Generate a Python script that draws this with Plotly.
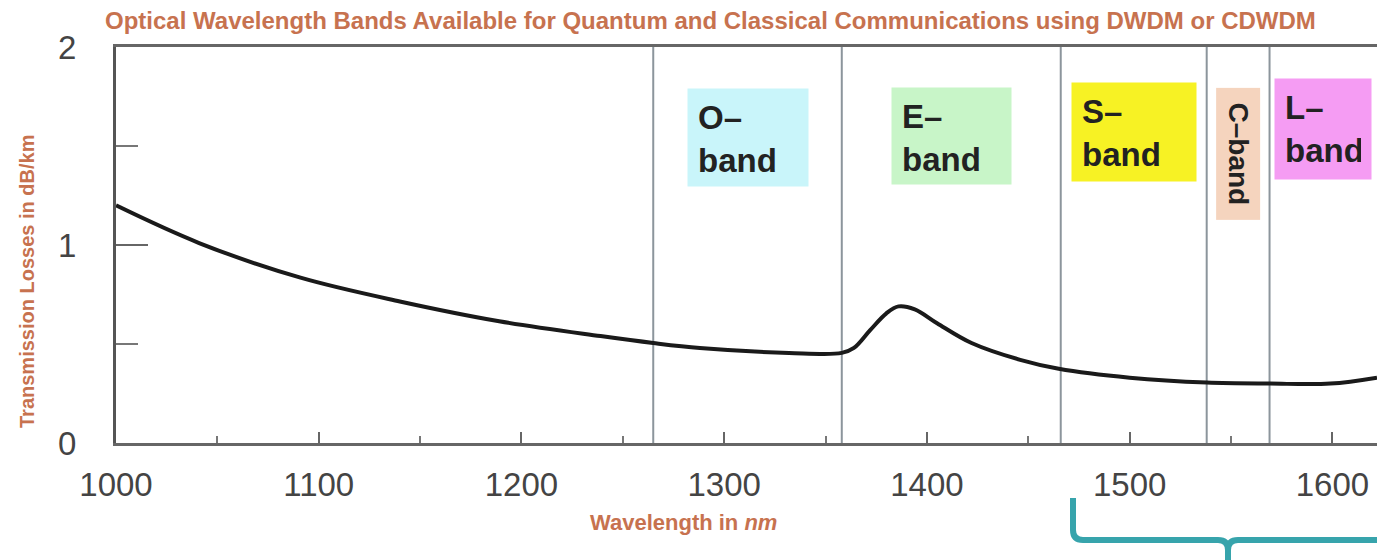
import plotly.graph_objects as go

# ---- data ----
wavelength_nm = [1000, 1041, 1091, 1140, 1189, 1239, 1265, 1288, 1332, 1358,
                 1364, 1372, 1380, 1386, 1394, 1405, 1422, 1446, 1465, 1500, 1538,
                 1569, 1599, 1622]
loss_db_km = [1.20, 1.01, 0.835, 0.715, 0.615, 0.54, 0.505, 0.48, 0.455, 0.455,
              0.48, 0.57, 0.655, 0.69, 0.675, 0.605, 0.505, 0.42, 0.375, 0.33, 0.305,
              0.30, 0.30, 0.33]

band_names = ["O", "E", "S", "C", "L"]
band_start = [1265, 1358, 1466, 1538, 1569]
band_end = [1358, 1466, 1538, 1569, 1622]
band_colors = ["#c9f5fa", "#c8f5c8", "#f7f224", "#f5d4be", "#f59cf3"]

x_ticks = [1000, 1100, 1200, 1300, 1400, 1500, 1600]
y_ticks = [0, 1, 2]

# ---- layout constants ----
W, H = 1377, 560
L, T, B = 116, 47, 443
SALMON = "#c7724f"
FONT = "Liberation Sans"

fig = go.Figure()
fig.add_trace(go.Scatter(x=wavelength_nm, y=loss_db_km, mode="lines",
                         line=dict(color="#1a1a1a", width=4, shape="spline", smoothing=1.0),
                         hoverinfo="skip", showlegend=False))


def px(xp):
    return (xp - L) / (W - L)


def py(yp):
    return (B - yp) / (B - T)


shapes = []
# vertical band boundary lines
for xs in band_start:
    shapes.append(dict(type="line", xref="x", yref="y", x0=xs, x1=xs, y0=0, y1=2,
                       line=dict(color="#8c959c", width=2), layer="below"))

# band label boxes
box_h = {"O": 97, "E": 96, "S": 98, "C": 131, "L": 100}
box_w = {"O": 120, "E": 119, "S": 124, "C": 43, "L": 96}
box_top = {"O": 88, "E": 87, "S": 82, "C": 87, "L": 78}
annotations = []
pad = 10
for name, s, e, c in zip(band_names, band_start, band_end, band_colors):
    xc = (s + e) / 2
    if name == "C":
        annotations.append(dict(
            x=xc, y=py(box_top[name]), xref="x", yref="paper", xanchor="center", yanchor="top",
            text=f"<b>{name}\u2013band</b>", textangle=90, showarrow=False,
            font=dict(family=FONT, size=28, color="#222"),
            bgcolor=c, borderpad=2, width=box_h[name] - 4, height=box_w[name] - 4,
            align="center", valign="middle"))
    else:
        annotations.append(dict(
            x=xc, y=py(box_top[name]), xref="x", yref="paper", xanchor="center", yanchor="top",
            text=f"<b>{name}\u2013<br>band</b>", showarrow=False,
            font=dict(family=FONT, size=33, color="#222"),
            bgcolor=c, borderpad=pad, width=box_w[name] - 2 * pad,
            height=box_h[name] - 2 * pad, align="left", valign="top"))

# titles
annotations.append(dict(x=px(27), y=py(282), xref="paper", yref="paper",
                        xanchor="center", yanchor="middle",
                        text="<b>Transmission Losses in dB/km</b>",
                        showarrow=False, textangle=-90,
                        font=dict(family=FONT, size=20, color=SALMON)))
annotations.append(dict(x=px(683), y=py(522), xref="paper", yref="paper",
                        xanchor="center", yanchor="middle",
                        text="<b>Wavelength in <i>nm</i></b>",
                        showarrow=False,
                        font=dict(family=FONT, size=22, color=SALMON)))
annotations.append(dict(x=px(710), y=py(21), xref="paper", yref="paper",
                        xanchor="center", yanchor="middle",
                        text="<b>Optical Wavelength Bands Available for Quantum and Classical Communications using DWDM or CDWDM</b>",
                        showarrow=False,
                        font=dict(family=FONT, size=24, color=SALMON)))

# teal bracket under S/C/L bands
r = 10
yb = 540
path = (f"M {px(1073)},{py(498)} L {px(1073)},{py(yb - r)} "
        f"Q {px(1073)},{py(yb)} {px(1073 + r)},{py(yb)} "
        f"L {px(1228 - r)},{py(yb)} Q {px(1228)},{py(yb)} {px(1228)},{py(yb + r)} "
        f"L {px(1228)},{py(570)} M {px(1228)},{py(yb + r)} "
        f"Q {px(1228)},{py(yb)} {px(1228 + r)},{py(yb)} L {px(1390)},{py(yb)}")
shapes.append(dict(type="path", xref="paper", yref="paper", path=path,
                   line=dict(color="#37a4ac", width=6)))

fig.update_layout(
    width=W, height=H,
    margin=dict(l=L, r=0, t=T, b=H - B, autoexpand=False),
    plot_bgcolor="white", paper_bgcolor="white",
    shapes=shapes, annotations=annotations,
    xaxis=dict(range=[1000, 1622], tickvals=x_ticks, ticks="inside", ticklen=11,
               tickwidth=2, tickcolor="#666",
               minor=dict(dtick=50, tick0=1000, ticks="inside", ticklen=7, tickwidth=2, tickcolor="#777"),
               showline=True, linecolor="#666", linewidth=3, mirror=True,
               showgrid=False, zeroline=False, ticklabelstandoff=10,
               tickfont=dict(family=FONT, size=33, color="#444")),
    yaxis=dict(range=[0, 2], tickvals=y_ticks, ticks="inside", ticklen=32,
               tickwidth=2, tickcolor="#666",
               minor=dict(dtick=0.5, tick0=0, ticks="inside", ticklen=22, tickwidth=2, tickcolor="#777"),
               showline=True, linecolor="#555", linewidth=3,
               showgrid=False, zeroline=False, ticklabelstandoff=30,
               tickfont=dict(family=FONT, size=33, color="#444")),
)

fig.write_html("out.html", config={"displayModeBar": False},
               post_script="document.body.style.margin='0';document.body.style.overflow='hidden';")
